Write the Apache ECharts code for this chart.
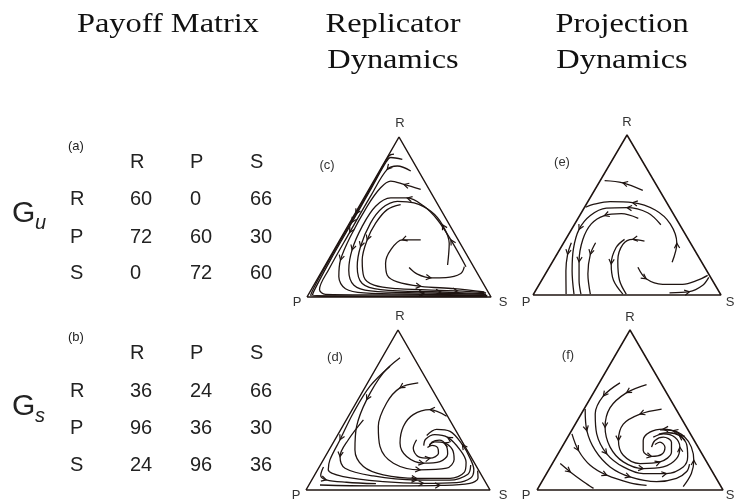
<!DOCTYPE html>
<html>
<head>
<meta charset="utf-8">
<script src="https://cdn.jsdelivr.net/npm/echarts@6/dist/echarts.min.js"></script>
<style>
  html, body { margin: 0; padding: 0; background: #fff; }
  #chart { width: 735px; height: 500px; }
</style>
</head>
<body>
<div id="chart"></div>
<script>
// payoff matrices (row player strategy vs column strategy)
const strategies = ['R', 'P', 'S']
const payoffU = [[60, 0, 66], [72, 60, 30], [0, 72, 60]]
const payoffS = [[36, 24, 66], [96, 36, 30], [24, 96, 36]]

// simplex corners: P (0,0), S (100,0), R (50,86.6)
const simplex = [[0, 0], [100, 0], [50, 86.6], [0, 0]]

// (c) replicator dynamics, G_u : orbits spiral out to the boundary
const linesC = [
  [[51.8, 74.5], [45.5, 75.5], [43.1, 73.2], [35.3, 59.5], [24.5, 40.5], [13, 20.5], [5.2, 6], [3, 1.2], [15, 0.6], [55, 0.5], [97.5, 0.4]],
  [[56.4, 68.2], [49.1, 70.9], [43.6, 69.1], [34.8, 55], [23.2, 35], [11.9, 15], [6.8, 4], [10, 1.4], [40, 1.1], [96.5, 0.8]],
  [[61.8, 58.2], [52.7, 60.9], [45.5, 62.7], [40, 59.1], [32.7, 49.1], [23.6, 32.7], [18.2, 20], [17.3, 10.9], [20.9, 4.5], [30.9, 2.2], [63.6, 1.5], [98, 0.9]],
  [[86.4, 16.4], [78.2, 30.9], [70.9, 41.8], [63.6, 49.1], [54.5, 53.6], [45.5, 53.6], [37.3, 49.1], [30, 38.2], [24.5, 25.5], [22.7, 14.5], [25.5, 6.4], [34.5, 3.3], [63.6, 2.2], [97.3, 1.5]],
  [[76.4, 17.3], [77.3, 29.1], [73.6, 39.1], [67.3, 46.4], [58.2, 50.9], [49.1, 51.8], [40.9, 48.2], [34.5, 40], [29.1, 27.3], [27.3, 16.4], [30, 7.3], [40, 4], [72.7, 2.7], [96.4, 1.8]],
  [[61.8, 30.9], [51.8, 30.9], [45.5, 25.5], [42.7, 18.2], [43.6, 11.8], [49.1, 8.2], [61.8, 5.8], [80, 4.5], [96.4, 2.7]],
  [[55.5, 16], [60, 12.4], [67.3, 10.4], [75.5, 10.5], [83.6, 12.7], [85.5, 16.4]],
  [[50.9, 50], [43.6, 47.3], [37.3, 40], [32.7, 30.9], [30, 20], [30.9, 10.9], [36.4, 6.4], [49.1, 4.5], [81.8, 3.3], [97.3, 2.2]],
  [[47.3, 77.3], [44.6, 76.4], [38, 65], [26.5, 45], [14.9, 25], [5.3, 8], [2, 0.8], [10, 0.4], [50, 0.3], [98, 0.2]]
]
const arrowsC = [[0, 4], [1, 2], [1, 4], [2, 1], [2, 6], [2, 10], [3, 1], [3, 4], [3, 8], [3, 12],
  [4, 2], [4, 8], [4, 12], [5, 1], [5, 6], [6, 2], [7, 3], [7, 8], [8, 3]]

// (d) replicator dynamics, G_s : orbits spiral in
const linesD = [
  [[51.1, 71.6], [42, 63.4], [33, 48.9], [27.5, 34.4], [26.6, 21.7], [31.2, 12.7], [42, 8.2], [60.1, 6.3], [78.3, 6.3], [86, 9.5], [87, 15], [83.5, 22], [77, 28.5], [70, 30], [65, 27.5], [64, 24]],
  [[61, 58], [51.1, 55.3], [43.8, 47.1], [39.3, 34.4], [40.2, 23.6], [47.5, 14.5], [62, 10.9], [76.4, 11.8], [80.5, 16.5], [79.5, 22], [75, 25.5], [70, 26], [67, 24.5]],
  [[45.7, 67], [34.8, 56.2], [25.7, 41.7], [18.5, 27.2], [13, 16.3], [12.1, 10.9], [20.3, 7.2], [42, 4.5], [63.8, 3.6], [81.9, 4], [89.5, 6.5], [91.2, 11], [89, 17.5], [85, 24.5], [78.3, 31.7], [71, 32.8], [65.6, 29.5]],
  [[7.6, 2.7], [36.6, 2.2], [72.8, 2.5], [89.1, 3.6], [93.5, 6.5], [93.3, 10.5]],
  [[76.4, 39.9], [67.4, 43.5], [58.3, 40.8], [52.9, 34.4], [51.1, 25.4], [54.7, 18.1], [63.8, 14.5], [72.8, 15.4], [77, 19.5], [76, 24.5], [72.5, 27], [68.5, 26], [67, 23.5]],
  [[60.1, 27.2], [58.3, 22.6], [61, 18.1], [67.4, 17.2], [72, 19.9], [71.5, 23], [68.5, 24.2], [66, 23]],
  [[31.2, 38], [23, 27.2], [18.5, 18.1], [21.2, 11.8], [36.6, 7.6], [60, 5.4], [78, 5.3], [88, 8.5], [89.5, 13.5]],
  [[9.5, 12.5], [8, 8], [11, 5.5], [22, 4.2], [38, 3.4]]
]
const arrowsD = [[0, 2], [0, 7], [0, 12], [1, 1], [1, 6], [1, 10], [2, 3], [2, 8], [2, 13], [3, 2],
  [4, 1], [4, 6], [5, 3], [6, 2], [6, 5], [7, 2]]

// (e) projection dynamics, G_u
const linesE = [
  [[58.4, 56.6], [47.8, 60.7], [38.1, 61.9]],
  [[74, 17.7], [76.5, 28], [73, 38.5], [65, 46], [53, 50], [41, 50.5], [32, 49], [28, 47.5]],
  [[68, 38], [61, 44.5], [50, 47.3], [39, 47], [30.5, 43], [24.5, 35.5], [21.5, 25], [20.8, 13], [21.8, 0.5]],
  [[56, 41.5], [47, 44], [38, 43], [31, 38.5], [26.5, 30], [24.5, 18], [24.5, 8], [25.5, 0.5]],
  [[20.4, 28.3], [18.4, 22], [17.5, 13], [17.6, 0.5]],
  [[33.3, 28.3], [30.5, 22], [29.2, 11.5], [30.5, 0.5]],
  [[48.7, 30.1], [44.2, 25.7], [41.6, 16.8], [42.8, 8], [47.8, 0.5]],
  [[59.3, 29.2], [53.1, 30.1], [47.8, 27.4], [45.1, 18.6], [46, 8], [49.6, 0.5]],
  [[55.8, 15], [60.2, 8.8], [69, 5.8], [79.6, 5.8], [87.6, 8], [92.9, 10.6]],
  [[72.6, 1.2], [83.2, 1.8], [90.3, 5.3], [93.5, 9.5]]
]
const arrowsE = [[0, 1], [1, 1], [1, 4], [2, 2], [2, 5], [3, 2], [3, 5], [4, 1], [5, 1], [6, 2],
  [7, 1], [8, 1], [9, 1]]

// (f) projection dynamics, G_s
const linesF = [
  [[12.5, 14.3], [17.9, 9.8], [25, 4.5], [30.4, 0.9]],
  [[25.9, 43.8], [26.8, 32.1], [31.3, 21.4], [39.3, 12.5], [50, 7.1], [64.3, 4.5], [75, 6.3], [80.5, 10], [82, 14]],
  [[18.8, 30.4], [22.3, 21.4], [28.6, 13.4], [37.5, 8], [50, 3.9], [58.9, 2.5]],
  [[44.6, 58], [35.7, 50.9], [31.3, 41.1], [32.1, 30.4], [37.5, 19.6], [46.4, 12.5], [57.1, 8.9], [69.6, 8.9], [78.6, 12.5], [81, 18], [80.5, 24.5], [76.5, 29.5], [71, 31], [65.5, 30.3]],
  [[58.9, 57.1], [48.2, 52.7], [39.3, 44.6], [36.6, 33.9], [39.3, 23.2], [46.4, 15.2], [57.1, 11.6], [67.9, 12.5], [75, 17], [76.8, 23.2], [74.1, 28.6], [67.9, 30.4], [62.5, 28.6]],
  [[67, 43.8], [55.4, 41.1], [46.4, 35.7], [43.8, 26.8], [46.4, 18.8], [55.4, 14.3], [66.1, 15.2], [72.3, 20.5], [72.3, 25.9], [67.9, 28.6], [63.4, 26.8], [61.6, 23.2]],
  [[79.5, 26.8], [75, 31.3], [67.9, 33], [60.7, 31.3], [57.1, 26.8], [57.1, 21.4], [61.6, 18.2], [67, 19.3], [68.8, 23.2], [66.1, 25.9], [63.4, 24.6]],
  [[78.6, 1.8], [83, 8.9], [84.3, 16.1], [83, 23.2], [79.5, 28.6], [73.2, 32.1], [66.1, 32.5]]
]
const arrowsF = [[0, 1], [1, 1], [1, 4], [2, 1], [2, 3], [3, 1], [3, 4], [3, 7], [3, 11], [4, 1],
  [4, 3], [4, 6], [4, 9], [5, 1], [5, 3], [5, 6], [6, 2], [6, 6], [7, 2], [7, 5]]

const ink = '#1f1411'
const panels = [
  { tag: '(c)', lines: linesC, arrows: arrowsC, box: { left: 307, top: 137, width: 184, height: 160 },
    labels: { R: [400, 123], P: [297, 302], S: [503, 302], tag: [327, 165] } },
  { tag: '(d)', lines: linesD, arrows: arrowsD, box: { left: 306, top: 330, width: 184, height: 160 },
    labels: { R: [400, 316], P: [296, 495], S: [503, 495], tag: [335, 357] } },
  { tag: '(e)', lines: linesE, arrows: arrowsE, box: { left: 533, top: 135, width: 188, height: 160 },
    labels: { R: [627, 122], P: [526, 302], S: [730, 302], tag: [562, 162] } },
  { tag: '(f)', lines: linesF, arrows: arrowsF, box: { left: 537, top: 330, width: 186, height: 160 },
    labels: { R: [630, 317], P: [526, 495], S: [730, 495], tag: [568, 355] } }
]

const grid = [], xAxis = [], yAxis = [], series = [], graphic = []

const arrowItem = (params, api) => {
  const a = api.coord([api.value(0), api.value(1)])
  const b = api.coord([api.value(2), api.value(3)])
  const c = api.coord([api.value(4), api.value(5)])
  const ang = Math.atan2(c[1] - a[1], c[0] - a[0])
  const L = 5.5, w = 0.5
  const p1 = [b[0] - L * Math.cos(ang - w), b[1] - L * Math.sin(ang - w)]
  const p2 = [b[0] - L * Math.cos(ang + w), b[1] - L * Math.sin(ang + w)]
  return { type: 'polyline', shape: { points: [p1, b, p2] }, style: { stroke: ink, fill: null, lineWidth: 1.2 } }
}

panels.forEach((p, i) => {
  grid.push(Object.assign({ containLabel: false }, p.box))
  xAxis.push({ type: 'value', gridIndex: i, min: 0, max: 100, show: false })
  yAxis.push({ type: 'value', gridIndex: i, min: 0, max: 86.6, show: false })
  series.push({
    type: 'line', xAxisIndex: i, yAxisIndex: i, data: simplex, showSymbol: false, clip: false,
    silent: true, lineStyle: { color: ink, width: 1.5 }, animation: false
  })
  p.lines.forEach(pts => {
    series.push({
      type: 'line', xAxisIndex: i, yAxisIndex: i, data: pts, showSymbol: false, clip: false,
      smooth: 0.35, silent: true, lineStyle: { color: ink, width: 1.3 }, animation: false
    })
  })
  series.push({
    type: 'custom', xAxisIndex: i, yAxisIndex: i, silent: true, animation: false, clip: false,
    renderItem: arrowItem,
    encode: { x: [0, 2, 4], y: [1, 3, 5] },
    data: p.arrows.map(([k, j]) => {
      const pts = p.lines[k]
      return [...pts[j - 1], ...pts[j], ...pts[j + 1]]
    })
  })
  Object.keys(p.labels).forEach(key => {
    const [x, y] = p.labels[key]
    graphic.push({
      type: 'text', x, y, silent: true,
      style: { text: key === 'tag' ? p.tag : key, font: '13px "Liberation Sans"', fill: '#333',
        align: 'center', verticalAlign: 'middle' }
    })
  })
})

// column headings
const headFont = '27px "Liberation Serif"'
const heads = [['Payoff Matrix', 168, 25], ['Replicator', 393, 25], ['Dynamics', 393, 61],
  ['Projection', 622, 25], ['Dynamics', 622, 61]]
heads.forEach(([t, x, y]) => graphic.push({
  type: 'text', x, y, scaleX: 1.2, silent: true,
  style: { text: t, font: headFont, fill: '#111', align: 'center', verticalAlign: 'middle' }
}))

// payoff tables
const colX = [130, 190, 250]
const addMatrix = (mat, tag, tagY, headY, rowY, sub, gY) => {
  const txt = (t, x, y, font) => graphic.push({
    type: 'text', x, y, silent: true,
    style: { text: String(t), font: font || '20px "Liberation Sans"', fill: '#222', align: 'left', verticalAlign: 'middle' }
  })
  txt(tag, 68, tagY, '13px "Liberation Sans"')
  strategies.forEach((s, j) => txt(s, colX[j], headY))
  mat.forEach((row, r) => {
    txt(strategies[r], 70, rowY[r])
    row.forEach((v, j) => txt(v, colX[j], rowY[r]))
  })
  txt('G', 12, gY, '30px "Liberation Sans"')
  txt(sub, 35, gY + 9, 'italic 20px "Liberation Sans"')
}
addMatrix(payoffU, '(a)', 146, 162, [199, 237, 273], 'u', 214)
addMatrix(payoffS, '(b)', 337, 353, [391, 428, 465], 's', 407)

const chart = echarts.init(document.getElementById('chart'))
chart.setOption({
  backgroundColor: '#fff',
  animation: false,
  grid, xAxis, yAxis, series, graphic
})
</script>
</body>
</html>
